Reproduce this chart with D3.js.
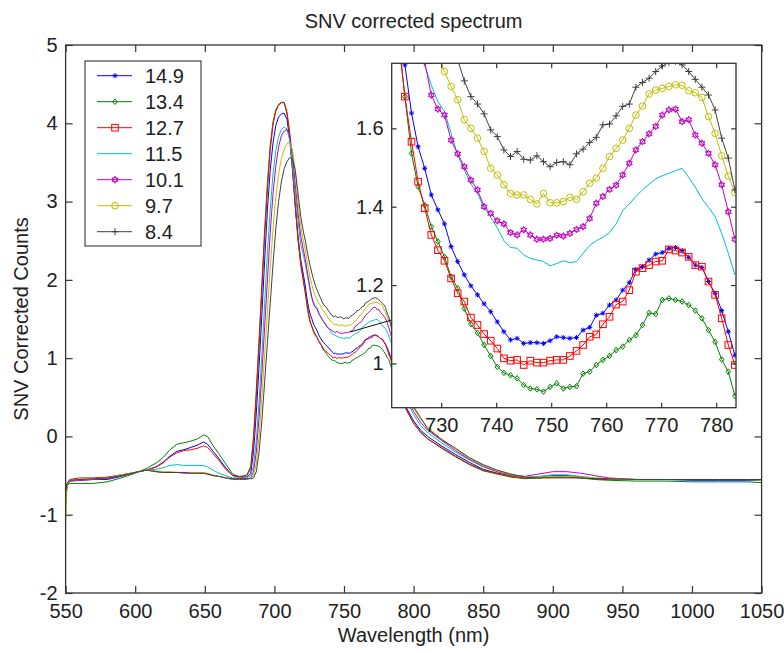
<!DOCTYPE html>
<html>
<head>
<meta charset="UTF-8">
<title>SNV corrected spectrum</title>
<script src="https://cdn.jsdelivr.net/npm/d3@7"></script>
<style>
  body { margin: 0; background: #fff; }
  svg text { font-family: "Liberation Sans", Arial, Helvetica, sans-serif; fill: #222; }
</style>
</head>
<body>
<svg id="chart" width="784" height="653"></svg>
<script>
  // legend order = plotting order
  const labels = ["14.9", "13.4", "12.7", "11.5", "10.1", "9.7", "8.4"];
  const colors = ["#0000ff", "#008000", "#ff0000", "#00bfbf", "#bf00bf", "#bfbf00", "#404040"];
  const markers = ["star", "diamond", "square", "none", "hexagram", "circle", "plus"];

  const xTicks = [550, 600, 650, 700, 750, 800, 850, 900, 950, 1000, 1050];
  const yTicks = [-2, -1, 0, 1, 2, 3, 4, 5];
  const insetXTicks = [730, 740, 750, 760, 770, 780];
  const insetYTicks = [1, 1.2, 1.4, 1.6];

  // wavelengths, left part of the spectrum (550 - 721 nm)
  const leftWl = [550, 551, 553, 560, 570, 580, 590, 600, 608, 615,
    620, 625, 630, 635, 640, 645, 649, 652, 656, 660,
    665, 670, 675, 680,
    683, 685, 687, 689, 691, 693, 695, 697, 699, 701,
    703, 705, 707, 709, 711, 713, 715, 717, 719, 721];

  const left149 = [-0.8, -0.62, -0.57, -0.56, -0.55, -0.55, -0.51, -0.46, -0.43, -0.39,
    -0.33, -0.25, -0.19, -0.17, -0.14, -0.11, -0.07, -0.1, -0.19, -0.28,
    -0.4, -0.5, -0.52, -0.52,
    -0.47, -0.2, 0.3, 0.9, 1.55, 2.25, 2.9, 3.4, 3.75, 3.97,
    4.08, 4.12, 4.13, 4.05, 3.8, 3.4, 2.95, 2.55, 2.25, 2.05];
  const left134 = [-0.85, -0.63, -0.6, -0.6, -0.6, -0.58, -0.53, -0.47, -0.41, -0.34,
    -0.27, -0.17, -0.1, -0.08, -0.06, -0.03, 0.02, 0.0, -0.12, -0.22,
    -0.35, -0.48, -0.52, -0.5,
    -0.38, 0.0, 0.6, 1.25, 1.95, 2.65, 3.25, 3.72, 4.02, 4.17,
    4.24, 4.27, 4.26, 4.12, 3.84, 3.42, 2.95, 2.52, 2.2, 1.98];
  const left127 = [-0.75, -0.6, -0.55, -0.53, -0.53, -0.52, -0.49, -0.46, -0.43, -0.39,
    -0.34, -0.26, -0.21, -0.18, -0.17, -0.15, -0.12, -0.14, -0.22, -0.3,
    -0.42, -0.5, -0.51, -0.5,
    -0.42, -0.05, 0.5, 1.15, 1.85, 2.55, 3.15, 3.65, 3.98, 4.15,
    4.23, 4.26, 4.27, 4.15, 3.88, 3.45, 2.95, 2.5, 2.18, 1.96];
  const left115 = [-0.8, -0.62, -0.57, -0.55, -0.55, -0.53, -0.5, -0.46, -0.43, -0.42,
    -0.4, -0.37, -0.36, -0.37, -0.37, -0.37, -0.37, -0.39, -0.43, -0.47,
    -0.5, -0.53, -0.53, -0.53,
    -0.5, -0.38, -0.05, 0.45, 1.05, 1.7, 2.35, 2.9, 3.35, 3.65,
    3.83, 3.92, 3.95, 3.93, 3.78, 3.48, 3.1, 2.75, 2.45, 2.3];
  const left101 = [-0.85, -0.62, -0.57, -0.56, -0.55, -0.54, -0.5, -0.46, -0.43, -0.45,
    -0.46, -0.46, -0.46, -0.47, -0.47, -0.47, -0.47, -0.48, -0.5, -0.51,
    -0.53, -0.55, -0.55, -0.55,
    -0.53, -0.45, -0.2, 0.25, 0.8, 1.4, 2.0, 2.6, 3.1, 3.45,
    3.7, 3.84, 3.9, 3.92, 3.85, 3.6, 3.22, 2.85, 2.55, 2.37];
  const left97 = [-1.1, -0.62, -0.56, -0.55, -0.54, -0.53, -0.49, -0.46, -0.43, -0.44,
    -0.45, -0.45, -0.46, -0.46, -0.46, -0.46, -0.46, -0.47, -0.49, -0.51,
    -0.53, -0.54, -0.54, -0.54,
    -0.53, -0.5, -0.35, 0.0, 0.5, 1.05, 1.6, 2.15, 2.65, 3.05,
    3.35, 3.55, 3.67, 3.74, 3.76, 3.66, 3.4, 3.0, 2.68, 2.48];
  const left84 = [-0.7, -0.6, -0.56, -0.55, -0.54, -0.53, -0.5, -0.46, -0.43, -0.45,
    -0.46, -0.46, -0.46, -0.46, -0.47, -0.47, -0.47, -0.48, -0.5, -0.51,
    -0.53, -0.54, -0.54, -0.54,
    -0.54, -0.53, -0.45, -0.2, 0.2, 0.7, 1.2, 1.7, 2.2, 2.65,
    3.0, 3.25, 3.42, 3.51, 3.56, 3.55, 3.4, 3.1, 2.8, 2.6];

  // wavelengths of the zoomed part (one sample every detector pixel)
  const insetWl = [722.2, 723.4, 724.6, 725.8, 727.0, 728.2, 729.4, 730.6, 731.8, 733.0,
    734.2, 735.4, 736.6, 737.8, 739.0, 740.2, 741.4, 742.6, 743.8, 745.0,
    746.2, 747.4, 748.6, 749.8, 751.0, 752.2, 753.4, 754.6, 755.8, 757.0,
    758.2, 759.4, 760.6, 761.8, 763.0, 764.2, 765.4, 766.6, 767.8, 769.0,
    770.2, 771.4, 772.6, 773.8, 775.0, 776.2, 777.4, 778.6, 779.8, 781.0,
    782.2, 783.4];

  const inset149 = [1.92, 1.762, 1.639, 1.553, 1.498, 1.430, 1.392, 1.356, 1.298, 1.260,
    1.226, 1.198, 1.175, 1.152, 1.132, 1.106, 1.081, 1.060, 1.064, 1.051,
    1.053, 1.053, 1.051, 1.058, 1.068, 1.066, 1.064, 1.066, 1.085, 1.092,
    1.123, 1.128, 1.149, 1.162, 1.187, 1.206, 1.240, 1.247, 1.264, 1.279,
    1.283, 1.294, 1.296, 1.288, 1.271, 1.251, 1.245, 1.209, 1.179, 1.135,
    1.081, 1.021];
  const inset134 = [1.84, 1.681, 1.536, 1.451, 1.404, 1.349, 1.311, 1.272, 1.221, 1.192,
    1.140, 1.100, 1.078, 1.047, 1.019, 0.991, 0.976, 0.970, 0.962, 0.945,
    0.936, 0.934, 0.928, 0.940, 0.949, 0.936, 0.940, 0.942, 0.974, 0.979,
    0.996, 1.009, 1.019, 1.034, 1.043, 1.060, 1.072, 1.098, 1.129, 1.126,
    1.162, 1.166, 1.162, 1.158, 1.149, 1.135, 1.115, 1.085, 1.055, 1.010,
    0.979, 0.917];
  const inset127 = [1.83, 1.681, 1.566, 1.464, 1.396, 1.328, 1.289, 1.262, 1.217, 1.179,
    1.158, 1.117, 1.098, 1.075, 1.058, 1.038, 1.013, 1.007, 1.009, 0.996,
    1.007, 1.002, 1.002, 1.007, 1.009, 1.009, 1.019, 1.032, 1.047, 1.068,
    1.074, 1.100, 1.119, 1.150, 1.158, 1.187, 1.234, 1.243, 1.251, 1.260,
    1.262, 1.291, 1.288, 1.283, 1.272, 1.251, 1.247, 1.209, 1.175, 1.115,
    1.047, 0.996];
  const inset115 = [2.2, 2.08, 1.97, 1.84, 1.76, 1.71, 1.668, 1.643, 1.587, 1.532,
    1.494, 1.458, 1.433, 1.398, 1.373, 1.346, 1.313, 1.296, 1.294, 1.277,
    1.268, 1.264, 1.260, 1.249, 1.255, 1.262, 1.257, 1.260, 1.281, 1.301,
    1.313, 1.322, 1.334, 1.356, 1.390, 1.407, 1.426, 1.443, 1.458, 1.471,
    1.479, 1.485, 1.492, 1.498, 1.475, 1.450, 1.421, 1.398, 1.375, 1.332,
    1.281, 1.226];
  const inset101 = [2.26, 2.13, 2.0, 1.88, 1.77, 1.685, 1.649, 1.634, 1.570, 1.535,
    1.502, 1.468, 1.443, 1.400, 1.383, 1.364, 1.356, 1.334, 1.328, 1.341,
    1.328, 1.317, 1.317, 1.319, 1.327, 1.325, 1.332, 1.342, 1.349, 1.370,
    1.409, 1.426, 1.444, 1.455, 1.481, 1.511, 1.545, 1.566, 1.586, 1.605,
    1.634, 1.647, 1.649, 1.617, 1.622, 1.583, 1.562, 1.536, 1.507, 1.456,
    1.387, 1.317];
  const inset97 = [2.38, 2.25, 2.13, 2.02, 1.93, 1.85, 1.79, 1.745, 1.707, 1.673,
    1.622, 1.600, 1.575, 1.541, 1.498, 1.481, 1.456, 1.434, 1.430, 1.430,
    1.419, 1.407, 1.434, 1.410, 1.410, 1.413, 1.424, 1.419, 1.438, 1.460,
    1.473, 1.498, 1.528, 1.549, 1.570, 1.600, 1.634, 1.657, 1.688, 1.698,
    1.702, 1.707, 1.711, 1.710, 1.696, 1.691, 1.679, 1.630, 1.587, 1.530,
    1.478, 1.436];
  const inset84 = [2.5, 2.38, 2.27, 2.17, 2.08, 2.0, 1.93, 1.87, 1.82, 1.775,
    1.721, 1.681, 1.662, 1.637, 1.596, 1.579, 1.545, 1.528, 1.541, 1.521,
    1.519, 1.530, 1.515, 1.502, 1.513, 1.515, 1.507, 1.535, 1.547, 1.564,
    1.577, 1.609, 1.611, 1.632, 1.656, 1.662, 1.705, 1.717, 1.728, 1.745,
    1.759, 1.768, 1.771, 1.762, 1.745, 1.725, 1.705, 1.685, 1.647, 1.575,
    1.524, 1.443];

  // wavelengths, right part of the spectrum (785 - 1050 nm)
  const rightWl = [785, 787, 790, 795, 800, 805, 810, 820, 830, 840,
    850, 860, 870, 880, 890, 900, 910, 920, 930, 940,
    960, 980, 1000, 1020, 1040, 1050];

  const right149 = [0.92, 0.78, 0.58, 0.36, 0.2, 0.08, 0.0, -0.12, -0.23, -0.33,
    -0.42, -0.47, -0.5, -0.53, -0.52, -0.5, -0.5, -0.52, -0.54, -0.55,
    -0.55, -0.55, -0.56, -0.56, -0.56, -0.56];
  const right134 = [0.82, 0.7, 0.52, 0.33, 0.17, 0.06, -0.03, -0.15, -0.26, -0.36,
    -0.44, -0.48, -0.52, -0.54, -0.53, -0.51, -0.51, -0.53, -0.55, -0.56,
    -0.57, -0.57, -0.58, -0.58, -0.58, -0.59];
  const right127 = [0.9, 0.76, 0.56, 0.34, 0.17, 0.05, -0.03, -0.14, -0.25, -0.35,
    -0.43, -0.47, -0.51, -0.53, -0.53, -0.52, -0.52, -0.53, -0.54, -0.55,
    -0.55, -0.55, -0.55, -0.55, -0.55, -0.55];
  const right115 = [1.12, 0.97, 0.74, 0.46, 0.28, 0.14, 0.05, -0.08, -0.2, -0.3,
    -0.39, -0.45, -0.49, -0.52, -0.51, -0.49, -0.49, -0.51, -0.53, -0.54,
    -0.55, -0.55, -0.55, -0.55, -0.55, -0.55];
  const right101 = [1.2, 1.04, 0.8, 0.5, 0.32, 0.18, 0.08, -0.05, -0.18, -0.29,
    -0.38, -0.45, -0.49, -0.51, -0.48, -0.45, -0.45, -0.47, -0.5, -0.53,
    -0.55, -0.55, -0.55, -0.55, -0.55, -0.55];
  const right97 = [1.3, 1.13, 0.88, 0.56, 0.36, 0.22, 0.12, -0.03, -0.16, -0.28,
    -0.37, -0.44, -0.49, -0.52, -0.52, -0.51, -0.51, -0.52, -0.53, -0.54,
    -0.55, -0.55, -0.55, -0.55, -0.55, -0.56];
  const right84 = [1.32, 1.16, 0.92, 0.6, 0.38, 0.24, 0.1, -0.04, -0.15, -0.27,
    -0.36, -0.43, -0.48, -0.52, -0.53, -0.53, -0.53, -0.53, -0.54, -0.54,
    -0.55, -0.55, -0.55, -0.55, -0.55, -0.55];

  const leftVals = [left149, left134, left127, left115, left101, left97, left84];
  const insetVals = [inset149, inset134, inset127, inset115, inset101, inset97, inset84];
  const rightVals = [right149, right134, right127, right115, right101, right97, right84];

  //
  // Build the series table.
  //
  const fullWl = leftWl.concat(insetWl, rightWl);
  const series = labels.map((lab, i) => ({
    label: lab,
    color: colors[i],
    marker: markers[i],
    full: fullWl.map((w, j) => [w, leftVals[i].concat(insetVals[i], rightVals[i])[j]]),
    zoom: insetWl.map((w, j) => [w, insetVals[i][j]])
  }));

  const svg = d3.select("#chart");
  const fontSize = 20;
  // plain hyphen for negatives, like the original figure
  const plain = d => String(d);

  // main axes box
  const box = { left: 65.6, right: 761.6, top: 45, bottom: 593 };
  const x = d3.scaleLinear().domain([550, 1050]).range([box.left, box.right]);
  const y = d3.scaleLinear().domain([-2, 5]).range([box.bottom, box.top]);

  // inset axes box
  const ibox = { left: 391.7, right: 736, top: 63.3, bottom: 407.7 };
  const ix = d3.scaleLinear().domain([721, 783.6]).range([ibox.left, ibox.right]);
  const iy = d3.scaleLinear().domain([0.887, 1.766]).range([ibox.bottom, ibox.top]);

  const defs = svg.append("defs");
  defs.append("clipPath").attr("id", "clipMain").append("rect")
    .attr("x", box.left).attr("y", box.top)
    .attr("width", box.right - box.left).attr("height", box.bottom - box.top);
  defs.append("clipPath").attr("id", "clipInset").append("rect")
    .attr("x", ibox.left).attr("y", ibox.top)
    .attr("width", ibox.right - ibox.left).attr("height", ibox.bottom - ibox.top);

  // draws one of the matlab-like markers centred at (px, py)
  function drawMarker(g, type, color, px, py) {
    const m = g.append("g").attr("transform", "translate(" + px + "," + py + ")");
    if (type === "plus") {
      m.append("path").attr("d", "M-3.5,0H3.5M0,-3.5V3.5")
        .attr("stroke", color).attr("fill", "none");
    } else if (type === "circle") {
      m.append("circle").attr("r", 3.3).attr("fill", "none").attr("stroke", color);
    } else if (type === "square") {
      m.append("rect").attr("x", -3.3).attr("y", -3.3).attr("width", 6.6).attr("height", 6.6)
        .attr("fill", "none").attr("stroke", color);
    } else if (type === "diamond") {
      m.append("path").attr("d", "M0,-2.8L2.3,0L0,2.8L-2.3,0Z")
        .attr("fill", "none").attr("stroke", color);
    } else if (type === "star") {
      m.append("path").attr("d", "M-2.5,0H2.5M0,-2.5V2.5M-1.8,-1.8L1.8,1.8M-1.8,1.8L1.8,-1.8")
        .attr("stroke", color).attr("fill", "none");
    } else if (type === "hexagram") {
      m.append("path").attr("d", "M0,-3.6L3.1,1.8L-3.1,1.8ZM0,3.6L3.1,-1.8L-3.1,-1.8Z")
        .attr("fill", color).attr("stroke", color).attr("stroke-width", 0.6);
    }
  }

  //
  // Main spectrum lines.
  //
  const mainLine = d3.line().x(d => x(d[0])).y(d => y(d[1]));
  const mainG = svg.append("g").attr("clip-path", "url(#clipMain)");
  series.forEach(s => {
    mainG.append("path")
      .attr("d", mainLine(s.full))
      .attr("fill", "none")
      .attr("stroke", s.color)
      .attr("stroke-width", 1);
  });

  // main axes: box + inward ticks on all four sides
  svg.append("rect")
    .attr("x", box.left).attr("y", box.top)
    .attr("width", box.right - box.left).attr("height", box.bottom - box.top)
    .attr("fill", "none").attr("stroke", "#333").attr("stroke-width", 1.3);

  function styleAxis(g) {
    g.select(".domain").remove();
    g.selectAll(".tick line").attr("stroke", "#333").attr("stroke-width", 1.2);
    g.selectAll(".tick text")
      .style("font-size", fontSize + "px")
      .attr("fill", "#222");
  }

  svg.append("g")
    .attr("transform", "translate(0," + box.bottom + ")")
    .call(d3.axisBottom(x).tickValues(xTicks).tickSize(-7).tickPadding(11).tickFormat(plain))
    .call(styleAxis);
  svg.append("g")
    .attr("transform", "translate(0," + box.top + ")")
    .call(d3.axisTop(x).tickValues(xTicks).tickSize(-7).tickFormat(""))
    .call(styleAxis);
  svg.append("g")
    .attr("transform", "translate(" + box.left + ",0)")
    .call(d3.axisLeft(y).tickValues(yTicks).tickSize(-7).tickPadding(8).tickFormat(plain))
    .call(styleAxis);
  svg.append("g")
    .attr("transform", "translate(" + box.right + ",0)")
    .call(d3.axisRight(y).tickValues(yTicks).tickSize(-7).tickFormat(""))
    .call(styleAxis);

  // titles
  svg.append("text")
    .attr("x", (box.left + box.right) / 2).attr("y", 28)
    .attr("text-anchor", "middle").style("font-size", fontSize + "px")
    .text("SNV corrected spectrum");
  svg.append("text")
    .attr("x", (box.left + box.right) / 2).attr("y", 642)
    .attr("text-anchor", "middle").style("font-size", fontSize + "px")
    .text("Wavelength (nm)");
  svg.append("text")
    .attr("transform", "translate(28," + (box.top + box.bottom) / 2 + ") rotate(-90)")
    .attr("text-anchor", "middle").style("font-size", fontSize + "px")
    .text("SNV Corrected Counts");

  //
  // Legend.
  //
  const lg = svg.append("g");
  lg.append("rect")
    .attr("x", 85).attr("y", 61).attr("width", 116).attr("height", 185)
    .attr("fill", "#fff").attr("stroke", "#222").attr("stroke-width", 1);
  series.forEach((s, i) => {
    const ly = 75.7 + i * 26;
    lg.append("line")
      .attr("x1", 97).attr("x2", 132).attr("y1", ly).attr("y2", ly)
      .attr("stroke", s.color).attr("stroke-width", 1);
    drawMarker(lg, s.marker, s.color, 115, ly);
    lg.append("text")
      .attr("x", 145).attr("y", ly).attr("dy", "0.36em")
      .style("font-size", fontSize + "px")
      .text(s.label);
  });

  //
  // Arrow pointing into the inset.
  //
  const a0 = [350, 332], a1 = [437, 307];
  const dx = a1[0] - a0[0], dy = a1[1] - a0[1], len = Math.hypot(dx, dy);
  const ux = dx / len, uy = dy / len;
  const hb = [a1[0] - 11 * ux, a1[1] - 11 * uy];
  svg.append("line")
    .attr("x1", a0[0]).attr("y1", a0[1]).attr("x2", hb[0]).attr("y2", hb[1])
    .attr("stroke", "#111").attr("stroke-width", 1);
  svg.append("path")
    .attr("d", "M" + a1[0] + "," + a1[1] +
      "L" + (hb[0] - 4 * uy) + "," + (hb[1] + 4 * ux) +
      "L" + (hb[0] + 4 * uy) + "," + (hb[1] - 4 * ux) + "Z")
    .attr("fill", "#111");

  //
  // Inset (zoom on 721 - 784 nm).
  //
  svg.append("rect")
    .attr("x", ibox.left).attr("y", ibox.top)
    .attr("width", ibox.right - ibox.left).attr("height", ibox.bottom - ibox.top)
    .attr("fill", "#fff");

  const insetLine = d3.line().x(d => ix(d[0])).y(d => iy(d[1]));
  const insetG = svg.append("g").attr("clip-path", "url(#clipInset)");
  series.forEach(s => {
    insetG.append("path")
      .attr("d", insetLine(s.zoom))
      .attr("fill", "none")
      .attr("stroke", s.color)
      .attr("stroke-width", 1);
    if (s.marker !== "none") {
      s.zoom.forEach(d => drawMarker(insetG, s.marker, s.color, ix(d[0]), iy(d[1])));
    }
  });

  svg.append("rect")
    .attr("x", ibox.left).attr("y", ibox.top)
    .attr("width", ibox.right - ibox.left).attr("height", ibox.bottom - ibox.top)
    .attr("fill", "none").attr("stroke", "#333").attr("stroke-width", 1.3);

  svg.append("g")
    .attr("transform", "translate(0," + ibox.bottom + ")")
    .call(d3.axisBottom(ix).tickValues(insetXTicks).tickSize(-5).tickPadding(10).tickFormat(plain))
    .call(styleAxis);
  svg.append("g")
    .attr("transform", "translate(0," + ibox.top + ")")
    .call(d3.axisTop(ix).tickValues(insetXTicks).tickSize(-5).tickFormat(""))
    .call(styleAxis);
  svg.append("g")
    .attr("transform", "translate(" + ibox.left + ",0)")
    .call(d3.axisLeft(iy).tickValues(insetYTicks).tickSize(-5).tickPadding(8).tickFormat(plain))
    .call(styleAxis);
  svg.append("g")
    .attr("transform", "translate(" + ibox.right + ",0)")
    .call(d3.axisRight(iy).tickValues(insetYTicks).tickSize(-5).tickFormat(""))
    .call(styleAxis);
</script>
</body>
</html>
